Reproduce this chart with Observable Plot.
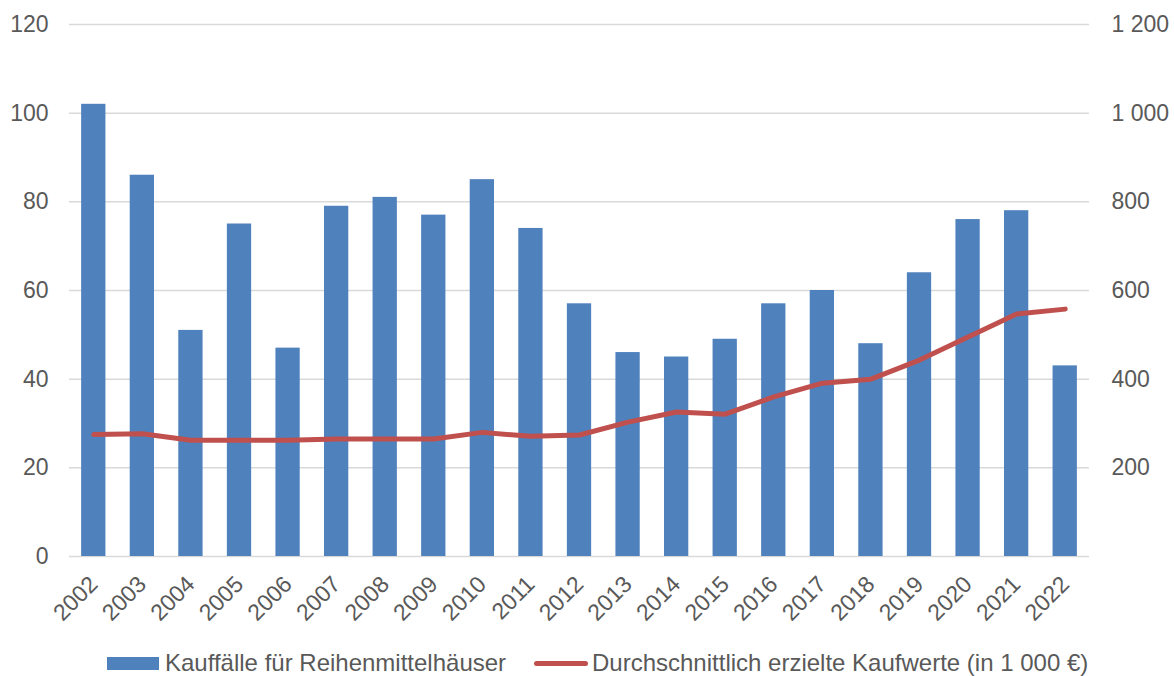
<!DOCTYPE html>
<html>
<head>
<meta charset="utf-8">
<script src="https://cdn.jsdelivr.net/npm/d3@7"></script>
<script src="https://cdn.jsdelivr.net/npm/@observablehq/plot@0.6"></script>
<style>
  html, body { margin: 0; padding: 0; background: #fff; }
  body { width: 1174px; height: 676px; overflow: hidden; font-family: "Liberation Sans", Arial, sans-serif; }
  #legend { position: relative; height: 46px; font-size: 24px; color: #595959; }
  .item { position: absolute; top: 19px; height: 28px; display: flex; align-items: center; white-space: nowrap; }
  .sw-bar { width: 52px; height: 13px; background: #4F81BD; margin-right: 6px; }
  .sw-line { width: 54px; height: 5px; background: #C0504D; border-radius: 3px; margin-right: 4px; }
</style>
</head>
<body>
<div id="chart"></div>
<div id="legend">
  <div class="item" style="left:107px"><div class="sw-bar"></div><span>Kauffälle für Reihenmittelhäuser</span></div>
  <div class="item" style="left:534px"><div class="sw-line"></div><span>Durchschnittlich erzielte Kaufwerte (in 1 000 €)</span></div>
</div>
<script>
const years = ["2002","2003","2004","2005","2006","2007","2008","2009","2010","2011","2012","2013","2014","2015","2016","2017","2018","2019","2020","2021","2022"];
const kauffaelle = [102,86,51,75,47,79,81,77,85,74,57,46,45,49,57,60,48,64,76,78,43];
const kaufwerte = [275,277,262,262,262,265,265,265,280,271,274,303,326,321,360,391,400,443,495,547,558];
const leftTicks = [0,20,40,60,80,100,120];
const rightTicks = [200,400,600,800,1000,1200];

const data = years.map((y, i) => ({year: y, count: kauffaelle[i], value: kaufwerte[i]}));
const fmt = n => String(n).replace(/\B(?=(\d{3})+(?!\d))/g, " ");

const chart = Plot.plot({
  width: 1174,
  height: 630,
  marginLeft: 69,
  marginRight: 85,
  marginTop: 24,
  marginBottom: 74,
  style: {fontFamily: "Liberation Sans, Arial, sans-serif", fontSize: "23px", color: "#595959", background: "#fff"},
  x: {type: "band", domain: years, paddingInner: 0.5, paddingOuter: 0.25, round: false, label: null},
  y: {domain: [0, 120], label: null},
  marks: [
    Plot.gridY(leftTicks, {stroke: "#d9d9d9", strokeOpacity: 1, strokeWidth: 1.5}),
    Plot.barY(data, {x: "year", y: "count", fill: "#4F81BD"}),
    Plot.line(data, {x: "year", y: d => d.value / 10, stroke: "#C0504D", strokeWidth: 5, strokeLinejoin: "round", strokeLinecap: "round"}),
    Plot.axisY(leftTicks, {anchor: "left", tickSize: 0, tickPadding: 21, label: null, fill: "#595959"}),
    Plot.axisY(rightTicks.map(t => t / 10), {anchor: "right", tickSize: 0, tickPadding: 22, label: null, fill: "#595959", textAnchor: "start", tickFormat: d => fmt(Math.round(d * 10))}),
    Plot.axisX({tickSize: 0, tickRotate: -45, tickPadding: 24, label: null, fill: "#595959"})
  ]
});
document.getElementById("chart").appendChild(chart);
</script>
</body>
</html>
